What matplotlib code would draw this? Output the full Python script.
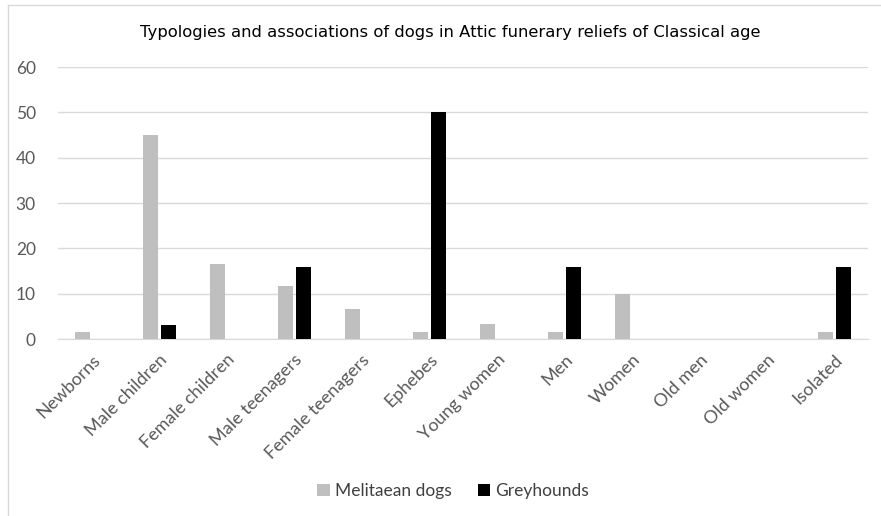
import matplotlib.pyplot as plt
import numpy as np
from matplotlib.lines import Line2D

categories = ["Newborns", "Male children", "Female children", "Male teenagers",
              "Female teenagers", "Ephebes", "Young women", "Men", "Women",
              "Old men", "Old women", "Isolated"]
melitaean = [1.6, 45, 16.6, 11.7, 6.7, 1.6, 3.3, 1.6, 10, 0, 0, 1.6]
greyhounds = [0, 3.1, 0, 15.8, 0, 50, 0, 15.8, 0, 0, 0, 15.8]
yticks = [0, 10, 20, 30, 40, 50, 60]

fig = plt.figure(figsize=(8.81, 5.16), dpi=100)
ax = fig.add_axes([58/881, 1-339/516, 810/881, 272/516])

x = np.arange(len(categories))
w = 0.22
ax.bar(x - 0.135, melitaean, width=w, color="#bfbfbf", label="Melitaean dogs", zorder=3)
ax.bar(x + 0.135, greyhounds, width=w, color="#000000", label="Greyhounds", zorder=3)

ax.set_xlim(-0.5, len(categories) - 0.5)
ax.set_ylim(0, 60)
ax.set_yticks(yticks)
ax.set_yticklabels([str(v) for v in yticks], family="Lato", fontsize=12.5)
ax.set_xticks(x)
ax.set_xticklabels(categories, rotation=45, ha="right", rotation_mode="anchor",
                   fontsize=13, color="#595959", family="Lato")
ax.tick_params(axis="y", colors="#595959", length=0, pad=16)
ax.tick_params(axis="x", length=0, pad=9)
ax.grid(axis="y", color="#d9d9d9", linewidth=1, zorder=0)
for s in ["top", "right", "left"]:
    ax.spines[s].set_visible(False)
ax.spines["bottom"].set_color("#d9d9d9")

fig.text(450/881, 1-32/516, "Typologies and associations of dogs in Attic funerary reliefs of Classical age",
         ha="center", va="center", fontsize=11.8, color="#000000")

fig.legend(loc="center", bbox_to_anchor=(453/881, 1-491/516), ncol=2, frameon=False,
           prop={"family": "Lato", "size": 12.5}, labelcolor="#404040",
           handlelength=0.7, handleheight=0.7, handletextpad=0.3, columnspacing=1.5)

# chart border
fig.add_artist(Line2D([8/881, 1], [1-5/516, 1-5/516], color="#d9d9d9", lw=1, transform=fig.transFigure))
fig.add_artist(Line2D([8/881, 8/881], [0, 1-5/516], color="#d9d9d9", lw=1, transform=fig.transFigure))

fig.savefig("out.png", dpi=100)
